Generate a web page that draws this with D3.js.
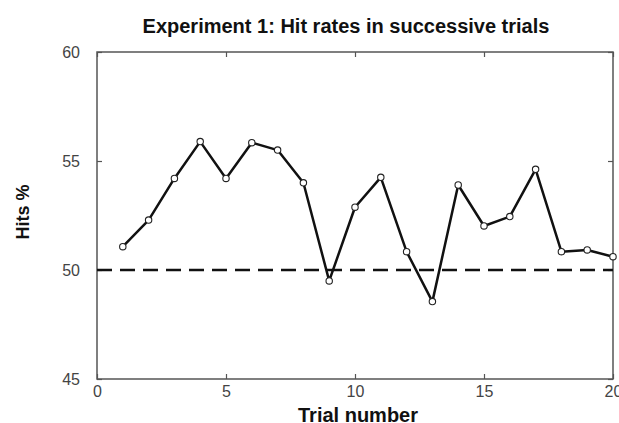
<!DOCTYPE html>
<html>
<head>
<meta charset="utf-8">
<script src="https://cdn.jsdelivr.net/npm/d3@7"></script>
<style>
  html, body { margin: 0; padding: 0; background: #fff; }
  svg { display: block; }
</style>
</head>
<body>
<script>
// Hit rate (%) per trial, Experiment 1
const trials = [1, 2, 3, 4, 5, 6, 7, 8, 9, 10, 11, 12, 13, 14, 15, 16, 17, 18, 19, 20];
const hits = [51.07, 52.29, 54.2, 55.89, 54.2, 55.84, 55.5, 54.0, 49.5, 52.88,
              54.25, 50.84, 48.55, 53.9, 52.02, 52.45, 54.62, 50.84, 50.92, 50.61];
const chanceLevel = 50;
const xTicks = [0, 5, 10, 15, 20];
const yTicks = [45, 50, 55, 60];

const W = 619, H = 423;
const margin = { top: 52, right: 6, bottom: 44, left: 97 };

const svg = d3.select("body").append("svg")
  .attr("width", W).attr("height", H);

const x = d3.scaleLinear().domain([0, 20]).range([margin.left, W - margin.right]);
const y = d3.scaleLinear().domain([45, 60]).range([H - margin.bottom, margin.top]);

const font = "Liberation Sans, Arial, sans-serif";
const frameColor = "#555";
const tickLen = 5;

// Axes on all four sides with inward ticks
const axisStyle = g => {
  g.select(".domain").remove();
  g.selectAll(".tick line").attr("stroke", frameColor).attr("stroke-width", 1.2);
  g.selectAll(".tick text")
    .attr("fill", "#444")
    .attr("font-family", font)
    .attr("font-size", 16);
};

svg.append("g")
  .attr("transform", `translate(0,${y(45)})`)
  .call(d3.axisBottom(x).tickValues(xTicks).tickSize(-tickLen).tickPadding(7).tickFormat(d3.format("d")))
  .call(axisStyle);

svg.append("g")
  .attr("transform", `translate(0,${y(60)})`)
  .call(d3.axisTop(x).tickValues(xTicks).tickSize(-tickLen).tickFormat(""))
  .call(axisStyle);

svg.append("g")
  .attr("transform", `translate(${x(0)},0)`)
  .call(d3.axisLeft(y).tickValues(yTicks).tickSize(-tickLen).tickPadding(17).tickFormat(d3.format("d")))
  .call(axisStyle);

svg.append("g")
  .attr("transform", `translate(${x(20)},0)`)
  .call(d3.axisRight(y).tickValues(yTicks).tickSize(-tickLen).tickFormat(""))
  .call(axisStyle);

// Plot frame
svg.append("rect")
  .attr("x", x(0)).attr("y", y(60))
  .attr("width", x(20) - x(0)).attr("height", y(45) - y(60))
  .attr("fill", "none").attr("stroke", frameColor).attr("stroke-width", 1.5);

// Chance level reference line
svg.append("line")
  .attr("x1", x(0)).attr("x2", x(20))
  .attr("y1", y(chanceLevel)).attr("y2", y(chanceLevel))
  .attr("stroke", "#111").attr("stroke-width", 2.5)
  .attr("stroke-dasharray", "15,8");

// Hit-rate series
const pts = trials.map((t, i) => [t, hits[i]]);
svg.append("path")
  .datum(pts)
  .attr("fill", "none")
  .attr("stroke", "#111")
  .attr("stroke-width", 2.5)
  .attr("stroke-linejoin", "round")
  .attr("d", d3.line().x(d => x(d[0])).y(d => y(d[1])));

svg.append("g").selectAll("circle")
  .data(pts)
  .join("circle")
  .attr("cx", d => x(d[0])).attr("cy", d => y(d[1]))
  .attr("r", 3.2)
  .attr("fill", "#fff")
  .attr("stroke", "#222")
  .attr("stroke-width", 1.1);

// Titles
svg.append("text")
  .attr("x", 346).attr("y", 33)
  .attr("text-anchor", "middle")
  .attr("font-family", font).attr("font-weight", "bold").attr("font-size", 20)
  .attr("fill", "#111")
  .text("Experiment 1: Hit rates in successive trials");

svg.append("text")
  .attr("x", 358).attr("y", 422)
  .attr("text-anchor", "middle")
  .attr("font-family", font).attr("font-weight", "bold").attr("font-size", 20)
  .attr("fill", "#111")
  .text("Trial number");

svg.append("text")
  .attr("transform", `translate(29,212) rotate(-90)`)
  .attr("text-anchor", "middle")
  .attr("font-family", font).attr("font-weight", "bold").attr("font-size", 18)
  .attr("fill", "#111")
  .text("Hits %");
</script>
</body>
</html>
